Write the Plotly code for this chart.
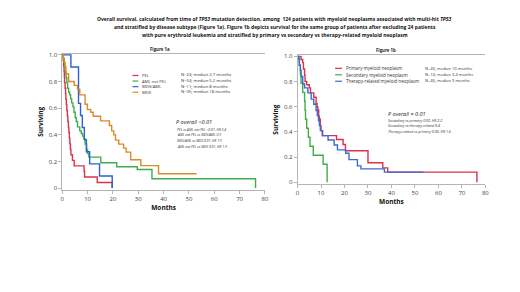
import plotly.graph_objects as go

W, H = 520, 292

# ---------------- Data ----------------
# Figure 1a: Kaplan-Meier steps (months, surviving fraction)
pel_t = [0, 0.3, 0.5, 0.7, 0.8, 0.9, 1.1, 1.3, 1.4, 1.6, 1.8, 2.0, 2.2, 2.4, 2.6, 2.8, 3.0, 3.2, 3.4, 4.0, 4.7, 8.6, 8.8, 13.8, 19.7]
pel_s = [1, 0.958, 0.917, 0.875, 0.833, 0.792, 0.75, 0.708, 0.667, 0.625, 0.583, 0.542, 0.5, 0.458, 0.417, 0.375, 0.333, 0.292, 0.25, 0.208, 0.167, 0.125, 0.083, 0.042, 0]

aml_t = [0, 0.3, 0.6, 0.9, 1.2, 1.5, 1.8, 2.1, 2.5, 2.9, 3.3, 3.7, 4.2, 4.6, 5.1, 5.5, 6.0, 6.9, 7.5, 8.0, 8.6, 9.0, 9.6, 10.0, 10.5, 15.2, 21.5, 29.6, 35.4, 76.3]
aml_s = [1, 0.98, 0.95, 0.91, 0.87, 0.83, 0.79, 0.75, 0.72, 0.70, 0.67, 0.64, 0.61, 0.57, 0.53, 0.50, 0.46, 0.43, 0.41, 0.39, 0.37, 0.33, 0.29, 0.26, 0.233, 0.19, 0.16, 0.14, 0.07, 0]

mdsaml_t = [0, 3.4, 6.4, 7.2, 7.9, 8.7, 9.5, 10.8, 14.7, 19.7]
mdsaml_s = [1, 0.909, 0.636, 0.545, 0.455, 0.364, 0.273, 0.182, 0.091, 0]

mds_t = [0, 0.4, 0.8, 1.1, 1.4, 2.5, 4.7, 6.0, 6.9, 9.0, 9.9, 11.2, 12.2, 15.1, 18.6, 19.5, 20.3, 21.0, 22.3, 24.2, 25.2, 27.0, 31.0, 38.0, 53.0]
mds_s = [1, 0.971, 0.943, 0.914, 0.857, 0.80, 0.771, 0.743, 0.70, 0.63, 0.59, 0.57, 0.54, 0.505, 0.47, 0.43, 0.40, 0.36, 0.33, 0.30, 0.27, 0.213, 0.169, 0.108, 0.108]

# Figure 1b
prim_t = [0, 1.5, 2.2, 2.5, 3.0, 3.2, 3.9, 5.0, 5.5, 6.9, 7.9, 8.3, 8.6, 9.0, 9.3, 9.7, 10.0, 10.5, 16.6, 19.4, 20.4, 30.0, 36.3, 38.4, 76.4]
prim_s = [1, 0.975, 0.95, 0.90, 0.85, 0.80, 0.775, 0.75, 0.71, 0.675, 0.625, 0.60, 0.575, 0.525, 0.50, 0.45, 0.41, 0.37, 0.34, 0.30, 0.25, 0.155, 0.114, 0.08, 0]

sec_t = [0, 0.7, 1.2, 1.5, 2.2, 3.0, 3.2, 3.4, 3.9, 4.6, 5.3, 6.7, 10.9, 12.6]
sec_s = [1, 0.929, 0.857, 0.786, 0.714, 0.643, 0.571, 0.5, 0.429, 0.357, 0.286, 0.214, 0.143, 0]

ther_t = [0, 0.5, 0.8, 1.2, 1.5, 2.2, 3.0, 4.4, 5.8, 6.9, 7.9, 8.4, 8.9, 9.3, 9.7, 10.7, 13.0, 15.6, 17.0, 20.5, 21.9, 25.5, 27.0, 37.0, 53.6]
ther_s = [1, 0.978, 0.93, 0.89, 0.84, 0.78, 0.75, 0.71, 0.66, 0.62, 0.57, 0.53, 0.49, 0.45, 0.41, 0.37, 0.335, 0.296, 0.257, 0.23, 0.18, 0.13, 0.106, 0.08, 0.08]

names_a = ["PEL", "AML not PEL", "MDS/AML", "MDS"]
ninfo_a = ["N=24; median 2.7 months", "N=54; median 5.2 months", "N=11; median 8 months", "N=35; median 18 months"]
stats_a = ["PEL vs AML not PEL <0.01, HR 2.4", "AML not PEL vs MDS/AML 0.9",
           "MDS/AML vs MDS 0.07, HR 1.9", "AML not PEL vs MDS 0.01, HR 1.9"]

names_b = ["Primary myeloid neoplasm", "Secondary myeloid neoplasm", "Therapy-related myeloid neoplasm"]
ninfo_b = ["N=40; median 10 months", "N=14; median 3.4 months", "N=46; median 9 months"]
stats_b = ["Secondary vs primary 0.02, HR 2.2", "Secondary vs therapy-related 0.4",
           "Therapy-related vs primary 0.06, HR 1.6"]

x_ticks = [0, 10, 20, 30, 40, 50, 60, 70, 80]
y_ticks = [0, 0.2, 0.4, 0.6, 0.8, 1.0]
y_ticktext = ["0", "0.2", "0.4", "0.6", "0.8", "1.0"]

title_lines = [
    "Overall survival, calculated from time of <i>TP53</i> mutation detection, among  124 patients with myeloid neoplasms associated with multi-hit <i>TP53</i>",
    "and stratified by disease subtype (Figure 1a). Figure 1b depicts survival for the same group of patients after excluding 24 patients",
    "with pure erythroid leukemia and stratified by primary vs secondary vs therapy-related myeloid neoplasm",
]

# ---------------- Styling ----------------
cols_a = ["#d8334a", "#3fae49", "#2f5fd6", "#d98a2b"]
cols_b = ["#d8334a", "#3fae49", "#3d6ad6"]
FONT = "Open Sans"

def X(p):
    return p / W

def Y(p):
    return 1 - p / H

fig = go.Figure()

series_a = [(pel_t, pel_s), (aml_t, aml_s), (mdsaml_t, mdsaml_s), (mds_t, mds_s)]
for (t, s), c in zip(series_a, cols_a):
    fig.add_trace(go.Scatter(x=t, y=s, mode="lines", line=dict(shape="hv", color=c, width=1.4),
                             xaxis="x", yaxis="y", showlegend=False, hoverinfo="skip"))

series_b = [(prim_t, prim_s), (sec_t, sec_s), (ther_t, ther_s)]
for (t, s), c in zip(series_b, cols_b):
    fig.add_trace(go.Scatter(x=t, y=s, mode="lines", line=dict(shape="hv", color=c, width=1.4),
                             xaxis="x2", yaxis="y2", showlegend=False, hoverinfo="skip"))

axis_common = dict(showgrid=False, zeroline=False, showline=True, linecolor="#b5b5b5", linewidth=1,
                   ticks="outside", ticklen=3, tickcolor="#b5b5b5",
                   tickfont=dict(family=FONT, size=6, color="#444"))

def ydom(p0, p1, lo, hi):
    unit = p0 - p1
    return [Y(p0 - lo * unit), Y(p0 - hi * unit)]

ylo, yhi = -0.012, 1.008

fig.update_layout(
    width=W, height=H, margin=dict(l=0, r=0, t=0, b=0),
    paper_bgcolor="white", plot_bgcolor="white",
    xaxis=dict(domain=[X(61), X(266)], range=[0, 80], tickvals=x_ticks, anchor="y", mirror=True,
               title=dict(text="<b>Months</b>", font=dict(family=FONT, size=6.5, color="#111"), standoff=2),
               **axis_common),
    yaxis=dict(domain=ydom(189, 53, ylo, yhi), range=[ylo, yhi], tickvals=y_ticks, ticktext=y_ticktext, anchor="x",
               title=dict(text="<b>Surviving</b>", font=dict(family=FONT, size=6.5, color="#111"), standoff=4),
               **axis_common),
    xaxis2=dict(domain=[X(299), X(489)], range=[0, 80], tickvals=x_ticks, anchor="y2", mirror=True,
                title=dict(text="<b>Months</b>", font=dict(family=FONT, size=6.5, color="#111"), standoff=2),
                **axis_common),
    yaxis2=dict(domain=ydom(183, 54.5, ylo, yhi), range=[ylo, yhi], tickvals=y_ticks, ticktext=y_ticktext, anchor="x2",
                title=dict(text="<b>Surviving</b>", font=dict(family=FONT, size=6.5, color="#111"), standoff=4),
                **axis_common),
)

ann = []
shapes = []
for i, (line, yy) in enumerate(zip(title_lines, [16, 24.5, 33])):
    ann.append(dict(text="<b>" + line + "</b>", x=X(276), y=Y(yy), xref="paper", yref="paper",
                    showarrow=False, xanchor="center", yanchor="middle",
                    font=dict(family=FONT, size=5.0, color="#111")))
ann.append(dict(text="<b>Figure 1a</b>", x=X(160), y=Y(46.5), xref="paper", yref="paper", showarrow=False,
                xanchor="center", yanchor="middle", font=dict(family=FONT, size=4.3, color="#222")))
ann.append(dict(text="<b>Figure 1b</b>", x=X(388), y=Y(47.5), xref="paper", yref="paper", showarrow=False,
                xanchor="center", yanchor="middle", font=dict(family=FONT, size=4.3, color="#222")))

for i, (nm, ni, c) in enumerate(zip(names_a, ninfo_a, cols_a)):
    yy = 74 + i * 5.7
    shapes.append(dict(type="line", xref="paper", yref="paper", x0=X(132), x1=X(138), y0=Y(yy), y1=Y(yy),
                       line=dict(color=c, width=1.2)))
    ann.append(dict(text=nm, x=X(140), y=Y(yy), xref="paper", yref="paper", showarrow=False,
                    xanchor="left", yanchor="middle", font=dict(family=FONT, size=4.2, color="#333")))
    ann.append(dict(text=ni, x=X(179), y=Y(yy - 0.5), xref="paper", yref="paper", showarrow=False,
                    xanchor="left", yanchor="middle", font=dict(family=FONT, size=4.2, color="#333")))
ann.append(dict(text="<i>P overall <0.01</i>", x=X(174), y=Y(122), xref="paper", yref="paper", showarrow=False,
                xanchor="left", yanchor="middle", font=dict(family=FONT, size=5.5, color="#222")))
for i, st in enumerate(stats_a):
    ann.append(dict(text="<i>" + st + "</i>", x=X(175), y=Y(128.7 + i * 5.8), xref="paper", yref="paper",
                    showarrow=False, xanchor="left", yanchor="middle",
                    font=dict(family=FONT, size=3.4, color="#333")))

for i, (nm, ni, c) in enumerate(zip(names_b, ninfo_b, cols_b)):
    yy = 66.7 + i * 6.6
    shapes.append(dict(type="line", xref="paper", yref="paper", x0=X(337), x1=X(344), y0=Y(yy), y1=Y(yy),
                       line=dict(color=c, width=1.2)))
    ann.append(dict(text=nm, x=X(346), y=Y(yy), xref="paper", yref="paper", showarrow=False,
                    xanchor="left", yanchor="middle", font=dict(family=FONT, size=4.5, color="#333")))
    ann.append(dict(text=ni, x=X(426), y=Y(yy - 0.3), xref="paper", yref="paper", showarrow=False,
                    xanchor="left", yanchor="middle", font=dict(family=FONT, size=4.0, color="#333")))
ann.append(dict(text="<i>P overall = 0.01</i>", x=X(388), y=Y(113.5), xref="paper", yref="paper", showarrow=False,
                xanchor="left", yanchor="middle", font=dict(family=FONT, size=5.5, color="#222")))
for i, st in enumerate(stats_b):
    ann.append(dict(text="<i>" + st + "</i>", x=X(388), y=Y(119.5 + i * 5.9), xref="paper", yref="paper",
                    showarrow=False, xanchor="left", yanchor="middle",
                    font=dict(family=FONT, size=3.6, color="#333")))

fig.update_layout(annotations=ann, shapes=shapes)
fig.write_html("out.html", config={"displayModeBar": False, "staticPlot": True},
               post_script="document.body.style.margin='0';document.body.style.overflow='hidden';")
